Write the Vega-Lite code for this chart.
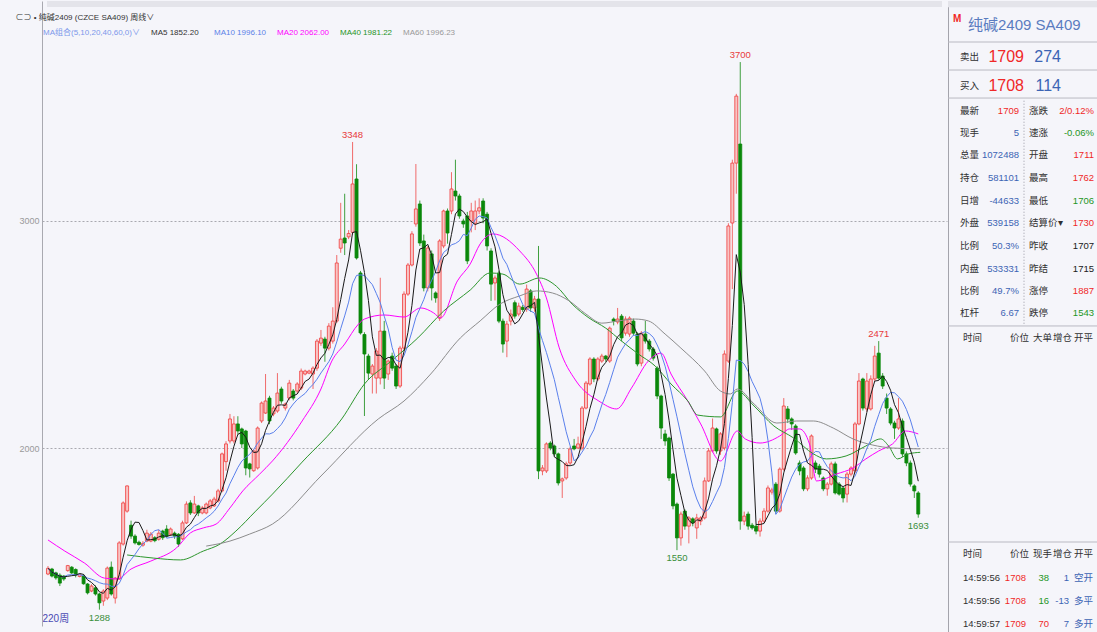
{
"$schema":"https://vega.github.io/schema/vega-lite/v6.json",
"background":"#f5f5fa",
"padding":0,
"spacing":0,
"resolve":{"scale":{"color":"independent"},"legend":{"color":"independent"}},
"config":{"view":{"stroke":null},"font":"Liberation Sans, Noto Sans CJK SC","text":{"font":"Liberation Sans, Noto Sans CJK SC"}},
"datasets":{
"k":[
{"i":0,"o":1445,"h":1480,"l":1440,"c":1470},{"i":1,"o":1467,"h":1472,"l":1430,"c":1436},{"i":2,"o":1450,"h":1455,"l":1420,"c":1428},{"i":3,"o":1440,"h":1448,"l":1392,"c":1405},{"i":4,"o":1436,"h":1440,"l":1415,"c":1423},
{"i":5,"o":1460,"h":1485,"l":1455,"c":1482},{"i":6,"o":1475,"h":1480,"l":1445,"c":1450},{"i":7,"o":1465,"h":1470,"l":1430,"c":1440},{"i":8,"o":1434,"h":1448,"l":1430,"c":1442},{"i":9,"o":1436,"h":1445,"l":1398,"c":1402},
{"i":10,"o":1401,"h":1405,"l":1355,"c":1362},{"i":11,"o":1370,"h":1400,"l":1365,"c":1392},{"i":12,"o":1384,"h":1395,"l":1350,"c":1357},{"i":13,"o":1357,"h":1362,"l":1288,"c":1318},{"i":14,"o":1326,"h":1378,"l":1305,"c":1370},
{"i":15,"o":1339,"h":1478,"l":1330,"c":1471},{"i":16,"o":1475,"h":1500,"l":1350,"c":1357},{"i":17,"o":1339,"h":1432,"l":1315,"c":1427},{"i":18,"o":1423,"h":1590,"l":1420,"c":1582},{"i":19,"o":1577,"h":1765,"l":1570,"c":1758},
{"i":20,"o":1722,"h":1835,"l":1715,"c":1833},{"i":21,"o":1660,"h":1680,"l":1600,"c":1612},{"i":22,"o":1612,"h":1620,"l":1575,"c":1582},{"i":23,"o":1585,"h":1592,"l":1570,"c":1575},{"i":24,"o":1572,"h":1590,"l":1565,"c":1580},
{"i":25,"o":1590,"h":1640,"l":1585,"c":1625},{"i":26,"o":1590,"h":1630,"l":1585,"c":1620},{"i":27,"o":1605,"h":1612,"l":1585,"c":1592},{"i":28,"o":1598,"h":1640,"l":1592,"c":1625},{"i":29,"o":1634,"h":1640,"l":1595,"c":1605},
{"i":30,"o":1643,"h":1660,"l":1605,"c":1612},{"i":31,"o":1620,"h":1650,"l":1612,"c":1643},{"i":32,"o":1625,"h":1632,"l":1600,"c":1612},{"i":33,"o":1620,"h":1625,"l":1565,"c":1577},{"i":34,"o":1600,"h":1680,"l":1595,"c":1670},
{"i":35,"o":1670,"h":1765,"l":1665,"c":1753},{"i":36,"o":1758,"h":1770,"l":1705,"c":1714},{"i":37,"o":1714,"h":1789,"l":1710,"c":1753},{"i":38,"o":1745,"h":1750,"l":1700,"c":1714},{"i":39,"o":1714,"h":1745,"l":1708,"c":1736},
{"i":40,"o":1714,"h":1760,"l":1708,"c":1753},{"i":41,"o":1736,"h":1775,"l":1730,"c":1767},{"i":42,"o":1745,"h":1785,"l":1740,"c":1775},{"i":43,"o":1767,"h":1820,"l":1760,"c":1811},{"i":44,"o":1811,"h":1980,"l":1805,"c":1974},
{"i":45,"o":1940,"h":2030,"l":1900,"c":2018},{"i":46,"o":2031,"h":2150,"l":2020,"c":2128},{"i":47,"o":2031,"h":2140,"l":2020,"c":2106},{"i":48,"o":2106,"h":2140,"l":2060,"c":2075},{"i":49,"o":2084,"h":2090,"l":2000,"c":2018},
{"i":50,"o":2075,"h":2080,"l":1880,"c":1912},{"i":51,"o":1930,"h":1935,"l":1870,"c":1908},{"i":52,"o":1900,"h":1995,"l":1895,"c":1987},{"i":53,"o":1912,"h":2095,"l":1905,"c":2088},{"i":54,"o":2119,"h":2205,"l":2110,"c":2198},
{"i":55,"o":2154,"h":2326,"l":2150,"c":2207},{"i":56,"o":2220,"h":2230,"l":2105,"c":2119},{"i":57,"o":2150,"h":2185,"l":2140,"c":2176},{"i":58,"o":2163,"h":2330,"l":2155,"c":2242},{"i":59,"o":2260,"h":2270,"l":2195,"c":2207},
{"i":60,"o":2176,"h":2200,"l":2165,"c":2194},{"i":61,"o":2220,"h":2300,"l":2210,"c":2286},{"i":62,"o":2251,"h":2260,"l":2210,"c":2220},{"i":63,"o":2251,"h":2290,"l":2240,"c":2282},{"i":64,"o":2264,"h":2350,"l":2255,"c":2339},
{"i":65,"o":2326,"h":2345,"l":2320,"c":2339},{"i":66,"o":2330,"h":2345,"l":2325,"c":2339},{"i":67,"o":2326,"h":2360,"l":2260,"c":2352},{"i":68,"o":2352,"h":2480,"l":2340,"c":2471},{"i":69,"o":2462,"h":2520,"l":2450,"c":2484},
{"i":70,"o":2480,"h":2490,"l":2380,"c":2440},{"i":71,"o":2440,"h":2550,"l":2430,"c":2537},{"i":72,"o":2471,"h":2620,"l":2460,"c":2559},{"i":73,"o":2559,"h":2850,"l":2550,"c":2815},{"i":74,"o":2880,"h":3080,"l":2860,"c":2920},
{"i":75,"o":2925,"h":3120,"l":2850,"c":2903},{"i":76,"o":2930,"h":2960,"l":2920,"c":2945},{"i":77,"o":2950,"h":3348,"l":2940,"c":3163},{"i":78,"o":3185,"h":3250,"l":2830,"c":2837},{"i":79,"o":2771,"h":2780,"l":2500,"c":2507},
{"i":80,"o":2500,"h":2510,"l":2141,"c":2414},{"i":81,"o":2405,"h":2415,"l":2300,"c":2330},{"i":82,"o":2326,"h":2370,"l":2240,"c":2361},{"i":83,"o":2308,"h":2440,"l":2240,"c":2427},{"i":84,"o":2308,"h":2750,"l":2280,"c":2515},
{"i":85,"o":2515,"h":2560,"l":2260,"c":2308},{"i":86,"o":2326,"h":2390,"l":2300,"c":2383},{"i":87,"o":2405,"h":2420,"l":2340,"c":2352},{"i":88,"o":2361,"h":2370,"l":2260,"c":2273},{"i":89,"o":2273,"h":2450,"l":2265,"c":2440},
{"i":90,"o":2440,"h":2690,"l":2430,"c":2678},{"i":91,"o":2678,"h":2815,"l":2670,"c":2806},{"i":92,"o":2806,"h":2955,"l":2800,"c":2943},{"i":93,"o":2987,"h":3251,"l":2975,"c":3053},{"i":94,"o":3075,"h":3090,"l":2890,"c":2903},
{"i":95,"o":2912,"h":2940,"l":2690,"c":2705},{"i":96,"o":2705,"h":2890,"l":2690,"c":2881},{"i":97,"o":2855,"h":2870,"l":2650,"c":2705},{"i":98,"o":2683,"h":2690,"l":2640,"c":2661},{"i":99,"o":2572,"h":2920,"l":2560,"c":2912},
{"i":100,"o":2890,"h":3050,"l":2880,"c":3044},{"i":101,"o":3044,"h":3055,"l":2900,"c":2947},{"i":102,"o":3044,"h":3215,"l":3030,"c":3141},{"i":103,"o":3132,"h":3270,"l":3090,"c":3110},{"i":104,"o":3110,"h":3120,"l":3010,"c":3022},
{"i":105,"o":3000,"h":3010,"l":2970,"c":2987},{"i":106,"o":3022,"h":3040,"l":2810,"c":2824},{"i":107,"o":3000,"h":3080,"l":2950,"c":3044},{"i":108,"o":2990,"h":3090,"l":2960,"c":3044},{"i":109,"o":3044,"h":3100,"l":3030,"c":3058},
{"i":110,"o":3088,"h":3100,"l":2990,"c":3013},{"i":111,"o":3030,"h":3040,"l":2870,"c":2890},{"i":112,"o":2868,"h":2880,"l":2648,"c":2722},{"i":113,"o":2727,"h":2760,"l":2650,"c":2749},{"i":114,"o":2771,"h":2780,"l":2550,"c":2559},
{"i":115,"o":2559,"h":2570,"l":2420,"c":2458},{"i":116,"o":2471,"h":2560,"l":2400,"c":2546},{"i":117,"o":2559,"h":2610,"l":2540,"c":2590},{"i":118,"o":2640,"h":2650,"l":2570,"c":2581},{"i":119,"o":2590,"h":2640,"l":2580,"c":2625},
{"i":120,"o":2620,"h":2630,"l":2600,"c":2610},{"i":121,"o":2612,"h":2720,"l":2600,"c":2700},{"i":122,"o":2692,"h":2700,"l":2600,"c":2617},{"i":123,"o":2617,"h":2670,"l":2600,"c":2656},{"i":124,"o":2656,"h":2890,"l":1863,"c":1899},
{"i":125,"o":1899,"h":1925,"l":1880,"c":1912},{"i":126,"o":1899,"h":2025,"l":1890,"c":2018},{"i":127,"o":2022,"h":2030,"l":1990,"c":2000},{"i":128,"o":2009,"h":2015,"l":1965,"c":1974},{"i":129,"o":1974,"h":1980,"l":1835,"c":1846},
{"i":130,"o":1855,"h":1870,"l":1780,"c":1864},{"i":131,"o":1868,"h":1940,"l":1860,"c":1930},{"i":132,"o":1934,"h":2005,"l":1925,"c":1996},{"i":133,"o":2009,"h":2040,"l":1990,"c":1996},{"i":134,"o":2000,"h":2050,"l":1995,"c":2018},
{"i":135,"o":2000,"h":2185,"l":1990,"c":2176},{"i":136,"o":2176,"h":2295,"l":2170,"c":2286},{"i":137,"o":2282,"h":2400,"l":2275,"c":2392},{"i":138,"o":2392,"h":2400,"l":2290,"c":2304},{"i":139,"o":2304,"h":2400,"l":2295,"c":2392},
{"i":140,"o":2383,"h":2415,"l":2375,"c":2405},{"i":141,"o":2405,"h":2410,"l":2380,"c":2392},{"i":142,"o":2383,"h":2535,"l":2375,"c":2528},{"i":143,"o":2568,"h":2575,"l":2540,"c":2559},{"i":144,"o":2555,"h":2617,"l":2545,"c":2568},
{"i":145,"o":2581,"h":2590,"l":2470,"c":2485},{"i":146,"o":2506,"h":2580,"l":2495,"c":2568},{"i":147,"o":2502,"h":2580,"l":2490,"c":2572},{"i":148,"o":2559,"h":2570,"l":2495,"c":2506},{"i":149,"o":2502,"h":2510,"l":2360,"c":2370},
{"i":150,"o":2374,"h":2515,"l":2360,"c":2506},{"i":151,"o":2502,"h":2560,"l":2460,"c":2471},{"i":152,"o":2471,"h":2480,"l":2425,"c":2436},{"i":153,"o":2436,"h":2445,"l":2385,"c":2396},{"i":154,"o":2352,"h":2360,"l":2215,"c":2229},
{"i":155,"o":2229,"h":2235,"l":2040,"c":2088},{"i":156,"o":2062,"h":2080,"l":2010,"c":2031},{"i":157,"o":2044,"h":2050,"l":1855,"c":1868},{"i":158,"o":1885,"h":1890,"l":1730,"c":1745},{"i":159,"o":1753,"h":1760,"l":1550,"c":1604},
{"i":160,"o":1604,"h":1720,"l":1570,"c":1709},{"i":161,"o":1722,"h":1730,"l":1640,"c":1656},{"i":162,"o":1656,"h":1700,"l":1580,"c":1692},{"i":163,"o":1688,"h":1695,"l":1655,"c":1670},{"i":164,"o":1648,"h":1710,"l":1600,"c":1692},
{"i":165,"o":1678,"h":1700,"l":1660,"c":1692},{"i":166,"o":1692,"h":1870,"l":1685,"c":1855},{"i":167,"o":1855,"h":2000,"l":1850,"c":1987},{"i":168,"o":1987,"h":2130,"l":1980,"c":2088},{"i":169,"o":2084,"h":2090,"l":1975,"c":1987},
{"i":170,"o":1987,"h":2070,"l":1970,"c":2062},{"i":171,"o":2000,"h":2430,"l":1990,"c":2414},{"i":172,"o":2383,"h":2990,"l":2375,"c":2978},{"i":173,"o":2991,"h":3270,"l":2700,"c":3255},{"i":174,"o":3255,"h":3560,"l":3120,"c":3550},
{"i":175,"o":3339,"h":3700,"l":1640,"c":1678},{"i":176,"o":1678,"h":1720,"l":1660,"c":1700},{"i":177,"o":1709,"h":1720,"l":1640,"c":1656},{"i":178,"o":1660,"h":1670,"l":1640,"c":1648},{"i":179,"o":1656,"h":1665,"l":1620,"c":1634},
{"i":180,"o":1634,"h":1690,"l":1610,"c":1678},{"i":181,"o":1678,"h":1735,"l":1670,"c":1722},{"i":182,"o":1722,"h":1835,"l":1715,"c":1824},{"i":183,"o":1806,"h":1825,"l":1795,"c":1815},{"i":184,"o":1841,"h":1850,"l":1710,"c":1722},
{"i":185,"o":1722,"h":1915,"l":1715,"c":1907},{"i":186,"o":1907,"h":2220,"l":1900,"c":2185},{"i":187,"o":2172,"h":2185,"l":2110,"c":2128},{"i":188,"o":2128,"h":2135,"l":2080,"c":2106},{"i":189,"o":2097,"h":2105,"l":1970,"c":1978},
{"i":190,"o":1934,"h":1945,"l":1880,"c":1899},{"i":191,"o":1912,"h":1920,"l":1810,"c":1820},{"i":192,"o":1820,"h":1880,"l":1810,"c":1868},{"i":193,"o":1868,"h":2060,"l":1860,"c":2053},{"i":194,"o":1934,"h":1945,"l":1890,"c":1907},
{"i":195,"o":1920,"h":1930,"l":1870,"c":1885},{"i":196,"o":1868,"h":1875,"l":1810,"c":1820},{"i":197,"o":1820,"h":1850,"l":1790,"c":1841},{"i":198,"o":1841,"h":1940,"l":1835,"c":1930},{"i":199,"o":1930,"h":1940,"l":1795,"c":1802},
{"i":200,"o":1841,"h":1850,"l":1790,"c":1797},{"i":201,"o":1824,"h":1830,"l":1760,"c":1780},{"i":202,"o":1797,"h":1895,"l":1760,"c":1885},{"i":203,"o":1885,"h":1920,"l":1875,"c":1912},{"i":204,"o":1899,"h":2115,"l":1890,"c":2106},
{"i":205,"o":2106,"h":2330,"l":2100,"c":2295},{"i":206,"o":2304,"h":2310,"l":2165,"c":2176},{"i":207,"o":2172,"h":2330,"l":2160,"c":2295},{"i":208,"o":2172,"h":2320,"l":2165,"c":2304},{"i":209,"o":2304,"h":2450,"l":2295,"c":2405},
{"i":210,"o":2418,"h":2471,"l":2300,"c":2308},{"i":211,"o":2317,"h":2330,"l":2260,"c":2273},{"i":212,"o":2220,"h":2240,"l":2150,"c":2176},{"i":213,"o":2172,"h":2180,"l":2100,"c":2110},{"i":214,"o":2110,"h":2120,"l":2040,"c":2088},
{"i":215,"o":2088,"h":2220,"l":2080,"c":2128},{"i":216,"o":2119,"h":2130,"l":1960,"c":1974},{"i":217,"o":1974,"h":1985,"l":1920,"c":1934},{"i":218,"o":1934,"h":1945,"l":1830,"c":1841},{"i":219,"o":1833,"h":1840,"l":1780,"c":1811},
{"i":220,"o":1802,"h":1810,"l":1693,"c":1709}
],
"ma":[
{"m":"ma20","t":0,"v":1595},{"m":"ma20","t":4.25,"v":1546},{"m":"ma20","t":9.25,"v":1493},{"m":"ma20","t":14.25,"v":1427},{"m":"ma20","t":17.5,"v":1423},{"m":"ma20","t":21,"v":1467},{"m":"ma20","t":26,"v":1502},{"m":"ma20","t":32.5,"v":1560},{"m":"ma20","t":36,"v":1626},{"m":"ma20","t":39.25,"v":1648},{"m":"ma20","t":42.5,"v":1665},{"m":"ma20","t":46,"v":1736},{"m":"ma20","t":49.25,"v":1811},{"m":"ma20","t":53.5,"v":1885},{"m":"ma20","t":56.75,"v":1943},{"m":"ma20","t":64.25,"v":2119},{"m":"ma20","t":69,"v":2260},{"m":"ma20","t":71.75,"v":2383},{"m":"ma20","t":75,"v":2458},{"m":"ma20","t":78.5,"v":2546},{"m":"ma20","t":80,"v":2568},{"m":"ma20","t":85,"v":2586},{"m":"ma20","t":90,"v":2577},{"m":"ma20","t":94.25,"v":2617},{"m":"ma20","t":97.5,"v":2595},{"m":"ma20","t":99.25,"v":2573},{"m":"ma20","t":103.5,"v":2736},{"m":"ma20","t":106.75,"v":2811},{"m":"ma20","t":109.25,"v":2899},{"m":"ma20","t":112.5,"v":2943},{"m":"ma20","t":119.25,"v":2868},{"m":"ma20","t":123.5,"v":2766},{"m":"ma20","t":126,"v":2661},{"m":"ma20","t":129.25,"v":2441},{"m":"ma20","t":133.5,"v":2295},{"m":"ma20","t":139.25,"v":2207},{"m":"ma20","t":143.75,"v":2172},{"m":"ma20","t":147.5,"v":2264},{"m":"ma20","t":151.75,"v":2383},{"m":"ma20","t":155,"v":2418},{"m":"ma20","t":157.5,"v":2326},{"m":"ma20","t":161.75,"v":2207},{"m":"ma20","t":165,"v":2106},{"m":"ma20","t":170,"v":1943},{"m":"ma20","t":174.25,"v":2075},{"m":"ma20","t":176.25,"v":2040},{"m":"ma20","t":180,"v":2022},{"m":"ma20","t":185,"v":2053},{"m":"ma20","t":187.5,"v":2084},{"m":"ma20","t":190,"v":2084},{"m":"ma20","t":192.5,"v":2018},{"m":"ma20","t":194.25,"v":1855},{"m":"ma20","t":199.25,"v":1885},{"m":"ma20","t":203.5,"v":1912},{"m":"ma20","t":206.75,"v":1952},{"m":"ma20","t":210,"v":1987},{"m":"ma20","t":213.5,"v":2018},{"m":"ma20","t":216.75,"v":2075},{"m":"ma20","t":220,"v":2062},
{"m":"ma40","t":20,"v":1529},{"m":"ma40","t":26.75,"v":1515},{"m":"ma40","t":33.5,"v":1507},{"m":"ma40","t":39.25,"v":1546},{"m":"ma40","t":43.5,"v":1577},{"m":"ma40","t":47.5,"v":1634},{"m":"ma40","t":52.5,"v":1722},{"m":"ma40","t":56.75,"v":1797},{"m":"ma40","t":64.25,"v":1938},{"m":"ma40","t":74.25,"v":2128},{"m":"ma40","t":80,"v":2282},{"m":"ma40","t":86.75,"v":2383},{"m":"ma40","t":93.5,"v":2485},{"m":"ma40","t":100,"v":2603},{"m":"ma40","t":106.75,"v":2696},{"m":"ma40","t":111.75,"v":2771},{"m":"ma40","t":115,"v":2766},{"m":"ma40","t":119.25,"v":2722},{"m":"ma40","t":124.25,"v":2749},{"m":"ma40","t":128.5,"v":2713},{"m":"ma40","t":132.5,"v":2634},{"m":"ma40","t":136.75,"v":2573},{"m":"ma40","t":141,"v":2528},{"m":"ma40","t":145,"v":2471},{"m":"ma40","t":149.25,"v":2414},{"m":"ma40","t":153.5,"v":2361},{"m":"ma40","t":157.5,"v":2282},{"m":"ma40","t":161.75,"v":2207},{"m":"ma40","t":164.25,"v":2145},{"m":"ma40","t":170,"v":2137},{"m":"ma40","t":174.25,"v":2251},{"m":"ma40","t":178.5,"v":2185},{"m":"ma40","t":183.5,"v":2097},{"m":"ma40","t":188.5,"v":2044},{"m":"ma40","t":193.5,"v":1974},{"m":"ma40","t":196.75,"v":1952},{"m":"ma40","t":201.75,"v":1965},{"m":"ma40","t":206.75,"v":2009},{"m":"ma40","t":210.5,"v":2040},{"m":"ma40","t":212.5,"v":2009},{"m":"ma40","t":214.75,"v":1952},{"m":"ma40","t":217.5,"v":1974},{"m":"ma40","t":220.5,"v":1981},
{"m":"ma60","t":40,"v":1568},{"m":"ma60","t":46,"v":1590},{"m":"ma60","t":51,"v":1621},{"m":"ma60","t":56.75,"v":1665},{"m":"ma60","t":69.25,"v":1881},{"m":"ma60","t":83.5,"v":2128},{"m":"ma60","t":90,"v":2207},{"m":"ma60","t":96.75,"v":2326},{"m":"ma60","t":104.25,"v":2485},{"m":"ma60","t":109.25,"v":2560},{"m":"ma60","t":114.25,"v":2634},{"m":"ma60","t":119.25,"v":2670},{"m":"ma60","t":123.5,"v":2692},{"m":"ma60","t":127.5,"v":2683},{"m":"ma60","t":131.75,"v":2648},{"m":"ma60","t":136,"v":2590},{"m":"ma60","t":140,"v":2550},{"m":"ma60","t":144.25,"v":2560},{"m":"ma60","t":148.5,"v":2568},{"m":"ma60","t":151.75,"v":2560},{"m":"ma60","t":156,"v":2502},{"m":"ma60","t":160,"v":2440},{"m":"ma60","t":166,"v":2339},{"m":"ma60","t":170,"v":2251},{"m":"ma60","t":172.5,"v":2238},{"m":"ma60","t":174.25,"v":2260},{"m":"ma60","t":178.5,"v":2194},{"m":"ma60","t":184.25,"v":2110},{"m":"ma60","t":189.25,"v":2119},{"m":"ma60","t":193.5,"v":2119},{"m":"ma60","t":198.5,"v":2088},{"m":"ma60","t":203.5,"v":2040},{"m":"ma60","t":208.5,"v":2013},{"m":"ma60","t":213.5,"v":2000},{"m":"ma60","t":220.5,"v":1996}
],
"ext":[
{"i":77,"v":3348,"pos":"hi"},{"i":175,"v":3700,"pos":"hi"},{"i":210,"v":2471,"pos":"hi"},
{"i":13,"v":1288,"pos":"lo"},{"i":159,"v":1550,"pos":"lo"},{"i":220,"v":1693,"pos":"lo"}
],
"panel":[
{"col":1.0,"line":0.8,"txt":"M","kind":"mark","tone":"up"},
{"col":4.0,"line":1.07,"txt":"纯碱2409  SA409","kind":"title","tone":"title"},
{"col":2.4,"line":2.5,"txt":"卖出","kind":"label","tone":"text"},
{"col":15.2,"line":2.5,"txt":"1709","kind":"big","tone":"up"},
{"col":22.6,"line":2.5,"txt":"274","kind":"big","tone":"vol"},
{"col":2.4,"line":3.79,"txt":"买入","kind":"label","tone":"text"},
{"col":15.2,"line":3.79,"txt":"1708","kind":"big","tone":"up"},
{"col":22.6,"line":3.79,"txt":"114","kind":"big","tone":"vol"},
{"col":2.4,"line":4.91,"txt":"最新","kind":"label","tone":"text"},{"col":14.2,"line":4.91,"txt":"1709","kind":"value","tone":"up"},{"col":16.2,"line":4.91,"txt":"涨跌","kind":"label","tone":"text"},{"col":29.2,"line":4.91,"txt":"2/0.12%","kind":"value","tone":"up"},
{"col":2.4,"line":5.87,"txt":"现手","kind":"label","tone":"text"},{"col":14.2,"line":5.87,"txt":"5","kind":"value","tone":"vol"},{"col":16.2,"line":5.87,"txt":"速涨","kind":"label","tone":"text"},{"col":29.2,"line":5.87,"txt":"-0.06%","kind":"value","tone":"down"},
{"col":2.4,"line":6.87,"txt":"总量","kind":"label","tone":"text"},{"col":14.2,"line":6.87,"txt":"1072488","kind":"value","tone":"vol"},{"col":16.2,"line":6.87,"txt":"开盘","kind":"label","tone":"text"},{"col":29.2,"line":6.87,"txt":"1711","kind":"value","tone":"up"},
{"col":2.4,"line":7.88,"txt":"持仓","kind":"label","tone":"text"},{"col":14.2,"line":7.88,"txt":"581101","kind":"value","tone":"vol"},{"col":16.2,"line":7.88,"txt":"最高","kind":"label","tone":"text"},{"col":29.2,"line":7.88,"txt":"1762","kind":"value","tone":"up"},
{"col":2.4,"line":8.92,"txt":"日增","kind":"label","tone":"text"},{"col":14.2,"line":8.92,"txt":"-44633","kind":"value","tone":"vol"},{"col":16.2,"line":8.92,"txt":"最低","kind":"label","tone":"text"},{"col":29.2,"line":8.92,"txt":"1706","kind":"value","tone":"down"},
{"col":2.4,"line":9.91,"txt":"外盘","kind":"label","tone":"text"},{"col":14.2,"line":9.91,"txt":"539158","kind":"value","tone":"vol"},{"col":16.2,"line":9.91,"txt":"结算价▾","kind":"label","tone":"text"},{"col":29.2,"line":9.91,"txt":"1730","kind":"value","tone":"up"},
{"col":2.4,"line":10.93,"txt":"比例","kind":"label","tone":"text"},{"col":14.2,"line":10.93,"txt":"50.3%","kind":"value","tone":"vol"},{"col":16.2,"line":10.93,"txt":"昨收","kind":"label","tone":"text"},{"col":29.2,"line":10.93,"txt":"1707","kind":"value","tone":"flat"},
{"col":2.4,"line":11.96,"txt":"内盘","kind":"label","tone":"text"},{"col":14.2,"line":11.96,"txt":"533331","kind":"value","tone":"vol"},{"col":16.2,"line":11.96,"txt":"昨结","kind":"label","tone":"text"},{"col":29.2,"line":11.96,"txt":"1715","kind":"value","tone":"flat"},
{"col":2.4,"line":12.94,"txt":"比例","kind":"label","tone":"text"},{"col":14.2,"line":12.94,"txt":"49.7%","kind":"value","tone":"vol"},{"col":16.2,"line":12.94,"txt":"涨停","kind":"label","tone":"text"},{"col":29.2,"line":12.94,"txt":"1887","kind":"value","tone":"up"},
{"col":2.4,"line":13.92,"txt":"杠杆","kind":"label","tone":"text"},{"col":14.2,"line":13.92,"txt":"6.67","kind":"value","tone":"vol"},{"col":16.2,"line":13.92,"txt":"跌停","kind":"label","tone":"text"},{"col":29.2,"line":13.92,"txt":"1543","kind":"value","tone":"down"},
{"col":3.0,"line":15.04,"txt":"时间","kind":"label","tone":"text"},{"col":12.4,"line":15.04,"txt":"价位","kind":"label","tone":"text"},{"col":17,"line":15.04,"txt":"大单","kind":"label","tone":"text"},{"col":21,"line":15.04,"txt":"增仓","kind":"label","tone":"text"},{"col":25.2,"line":15.04,"txt":"开平","kind":"label","tone":"text"},
{"col":3.0,"line":24.68,"txt":"时间","kind":"label","tone":"text"},{"col":12.4,"line":24.68,"txt":"价位","kind":"label","tone":"text"},{"col":17,"line":24.68,"txt":"现手","kind":"label","tone":"text"},{"col":21,"line":24.68,"txt":"增仓","kind":"label","tone":"text"},{"col":25.2,"line":24.68,"txt":"开平","kind":"label","tone":"text"},
{"col":3.0,"line":25.75,"txt":"14:59:56","kind":"label","tone":"time"},{"col":15.6,"line":25.75,"txt":"1708","kind":"value","tone":"up"},{"col":20.2,"line":25.75,"txt":"38","kind":"value","tone":"down"},{"col":24.2,"line":25.75,"txt":"1","kind":"value","tone":"vol"},{"col":25.2,"line":25.75,"txt":"空开","kind":"label","tone":"vol"},
{"col":3.0,"line":26.77,"txt":"14:59:56","kind":"label","tone":"time"},{"col":15.6,"line":26.77,"txt":"1708","kind":"value","tone":"up"},{"col":20.2,"line":26.77,"txt":"16","kind":"value","tone":"down"},{"col":24.2,"line":26.77,"txt":"-13","kind":"value","tone":"vol"},{"col":25.2,"line":26.77,"txt":"多平","kind":"label","tone":"vol"},
{"col":3.0,"line":27.8,"txt":"14:59:57","kind":"label","tone":"time"},{"col":15.6,"line":27.8,"txt":"1709","kind":"value","tone":"up"},{"col":20.2,"line":27.8,"txt":"70","kind":"value","tone":"up"},{"col":24.2,"line":27.8,"txt":"7","kind":"value","tone":"vol"},{"col":25.2,"line":27.8,"txt":"多开","kind":"label","tone":"vol"}
],
"psep":[{"line":1.83},{"line":3.08},{"line":4.33},{"line":14.5},{"line":24.14}],
"pvsep":[{"col":15.2,"line":4.45,"line2":14.4}]
},
"hconcat":[
{
"width":905,"height":625,
"layer":[
{"data":{"values":[{}]},"mark":{"type":"rect","color":"#e4e4ea"},
"encoding":{
"x":{"datum":-0.25,"type":"quantitative","scale":{"domain":[-0.25,226],"nice":false,"zero":false}},
"x2":{"datum":226},
"y":{"datum":3969,"type":"quantitative","scale":{"domain":[1216,3969],"nice":false,"zero":false}},
"y2":{"datum":3943}
}},
{"data":{"name":"k"},"mark":{"type":"rule","strokeWidth":1},
"encoding":{
"x":{"field":"i","type":"quantitative","scale":{"domain":[-0.25,226],"nice":false,"zero":false},"axis":{"title":"220周","titleAnchor":"start","titleAlign":"left","titleBaseline":"bottom","titleX":0,"titleY":-3,"titleColor":"#4a4ab4","titleFontSize":10,"titleFontWeight":"normal","titleFont":"Liberation Sans, Noto Sans CJK SC","labels":false,"ticks":false,"domain":false,"grid":false}},
"y":{"field":"l","type":"quantitative","scale":{"domain":[1216,3969],"nice":false,"zero":false},"axis":{"values":[2000,3000],"format":"d","title":"⊂⊃ • 纯碱2409  (CZCE SA409)   周线∨","titleAngle":0,"titleAlign":"left","titleBaseline":"middle","titleX":-27,"titleY":16,"titleFont":"Liberation Sans, Noto Sans CJK SC","titleFontSize":8,"titleFontWeight":"normal","titleColor":"#333333","grid":true,"gridDash":[2,2],"gridColor":"#a9a9b0","domain":true,"domainColor":"#a9a9b0","ticks":false,"labelColor":"#9a9a9a","labelFontSize":9,"labelFont":"Liberation Sans","labelPadding":3,"minExtent":42,"maxExtent":42}},
"y2":{"field":"h"},
"color":{"condition":{"test":"datum.c >= datum.o","value":"#f06a6a"},"value":"#3f9f3f"}
}},
{"data":{"name":"k"},"mark":{"type":"bar","width":3,"strokeWidth":0.8},
"encoding":{
"x":{"field":"i","type":"quantitative","scale":{"domain":[-0.25,226],"nice":false,"zero":false}},
"y":{"field":"o","type":"quantitative","scale":{"domain":[1216,3969],"nice":false,"zero":false}},
"y2":{"field":"c"},
"fill":{"condition":{"test":"datum.c >= datum.o","value":"#f8c4c4"},"value":"#0a880a"},
"stroke":{"condition":{"test":"datum.c >= datum.o","value":"#f03c3c"},"value":"#0a880a"}
}},
{"data":{"name":"ma"},"mark":{"type":"line","interpolate":"monotone","strokeWidth":1},
"encoding":{
"x":{"field":"t","type":"quantitative","scale":{"domain":[-0.25,226],"nice":false,"zero":false}},
"y":{"field":"v","type":"quantitative","scale":{"domain":[1216,3969],"nice":false,"zero":false}},
"color":{"field":"m","type":"nominal","scale":{"domain":["ma5","ma10","ma20","ma40","ma60"],"range":["#1a1a1a","#5a80ec","#ff00ff","#2d962d","#8c8c8c"]},
"legend":{"title":"MA组合(5,10,20,40,60,0)∨","titleOrient":"left","titleColor":"#7b97ea","titleFont":"Liberation Sans, Noto Sans CJK SC","titleFontSize":8,"titleFontWeight":"normal","titlePadding":3,"orient":"none","legendX":1,"legendY":28,"padding":0,"direction":"horizontal","gridAlign":"all","symbolType":"circle","symbolSize":0.01,"symbolOpacity":0,"symbolStrokeWidth":0,"labelOffset":0,"columnPadding":2,"labelFont":"Liberation Sans","labelFontSize":8,
"labelExpr":"datum.value=='ma5'?'MA5 1852.20':datum.value=='ma10'?'MA10 1996.10':datum.value=='ma20'?'MA20 2062.00':datum.value=='ma40'?'MA40 1981.22':'MA60 1996.23'",
"encode":{"labels":{"update":{"fill":{"signal":"datum.value=='ma5'?'#333333':datum.value=='ma10'?'#5b82e8':datum.value=='ma20'?'#ff00ff':datum.value=='ma40'?'#1f941f':'#999999'"}}}}}}
}},
{"data":{"name":"k"},
"transform":[
{"window":[{"op":"mean","field":"c","as":"ma5"}],"frame":[-4,0],"sort":[{"field":"i"}]},
{"window":[{"op":"mean","field":"c","as":"ma10"}],"frame":[-9,0],"sort":[{"field":"i"}]},
{"fold":["ma10","ma5"],"as":["m","v"]}
],
"mark":{"type":"line","strokeWidth":1},
"encoding":{
"x":{"field":"i","type":"quantitative","scale":{"domain":[-0.25,226],"nice":false,"zero":false}},
"y":{"field":"v","type":"quantitative","scale":{"domain":[1216,3969],"nice":false,"zero":false}},
"color":{"field":"m","type":"nominal","scale":{"domain":["ma5","ma10","ma20","ma40","ma60"],"range":["#1a1a1a","#5a80ec","#ff00ff","#2d962d","#8c8c8c"]},
"legend":{"title":"MA组合(5,10,20,40,60,0)∨","titleOrient":"left","titleColor":"#7b97ea","titleFont":"Liberation Sans, Noto Sans CJK SC","titleFontSize":8,"titleFontWeight":"normal","titlePadding":3,"orient":"none","legendX":1,"legendY":28,"padding":0,"direction":"horizontal","gridAlign":"all","symbolType":"circle","symbolSize":0.01,"symbolOpacity":0,"symbolStrokeWidth":0,"labelOffset":0,"columnPadding":2,"labelFont":"Liberation Sans","labelFontSize":8,
"labelExpr":"datum.value=='ma5'?'MA5 1852.20':datum.value=='ma10'?'MA10 1996.10':datum.value=='ma20'?'MA20 2062.00':datum.value=='ma40'?'MA40 1981.22':'MA60 1996.23'",
"encode":{"labels":{"update":{"fill":{"signal":"datum.value=='ma5'?'#333333':datum.value=='ma10'?'#5b82e8':datum.value=='ma20'?'#ff00ff':datum.value=='ma40'?'#1f941f':'#999999'"}}}}}}
}},
{"data":{"name":"ext"},"transform":[{"filter":"datum.pos == 'hi'"}],
"mark":{"type":"text","baseline":"bottom","dy":-2,"fontSize":9.5,"color":"#e83a3a"},
"encoding":{
"x":{"field":"i","type":"quantitative","scale":{"domain":[-0.25,226],"nice":false,"zero":false}},
"y":{"field":"v","type":"quantitative","scale":{"domain":[1216,3969],"nice":false,"zero":false}},
"text":{"field":"v","type":"quantitative","format":"d"}
}},
{"data":{"name":"ext"},"transform":[{"filter":"datum.pos == 'lo'"}],
"mark":{"type":"text","baseline":"top","dy":3,"fontSize":9.5,"color":"#3a8f3a"},
"encoding":{
"x":{"field":"i","type":"quantitative","scale":{"domain":[-0.25,226],"nice":false,"zero":false}},
"y":{"field":"v","type":"quantitative","scale":{"domain":[1216,3969],"nice":false,"zero":false}},
"text":{"field":"v","type":"quantitative","format":"d"}
}}
]
},
{
"width":150,"height":632,
"view":{"stroke":"#a4a4ac","strokeWidth":1},
"layer":[
{"data":{"values":[{}]},"mark":{"type":"rect","color":"#e4e4ea"},
"encoding":{
"x":{"datum":0,"type":"quantitative","scale":{"domain":[0,30],"nice":false,"zero":false},"axis":null},
"x2":{"datum":30},
"y":{"datum":0,"type":"quantitative","scale":{"domain":[0,28.2],"reverse":true,"nice":false,"zero":false},"axis":null},
"y2":{"datum":0.28}}},
{"data":{"name":"psep"},"mark":{"type":"rule","color":"#b9b9c2","strokeWidth":1},
"encoding":{"y":{"field":"line","type":"quantitative","scale":{"domain":[0,28.2],"reverse":true,"nice":false,"zero":false},"axis":null}}},
{"data":{"name":"pvsep"},"mark":{"type":"rule","color":"#9a9aa4","strokeDash":[1,2],"strokeWidth":1},
"encoding":{
"x":{"field":"col","type":"quantitative","scale":{"domain":[0,30],"nice":false,"zero":false},"axis":null},
"y":{"field":"line","type":"quantitative","scale":{"domain":[0,28.2],"reverse":true,"nice":false,"zero":false},"axis":null},
"y2":{"field":"line2"}}},
{"data":{"name":"panel"},"transform":[{"filter":"datum.kind == 'mark'"}],
"mark":{"type":"text","align":"left","baseline":"middle","fontSize":10,"fontWeight":"bold"},
"encoding":{
"x":{"field":"col","type":"quantitative","scale":{"domain":[0,30],"nice":false,"zero":false},"axis":null},
"y":{"field":"line","type":"quantitative","scale":{"domain":[0,28.2],"reverse":true,"nice":false,"zero":false},"axis":null},
"text":{"field":"txt"},
"color":{"field":"tone","type":"nominal","scale":{"domain":["up","down","vol","flat","text","title","time"],"range":["#f02828","#1e961e","#3c64b4","#202020","#303030","#5a7cc0","#303030"]},"legend":null}}},
{"data":{"name":"panel"},"transform":[{"filter":"datum.kind == 'title'"}],
"mark":{"type":"text","align":"left","baseline":"middle","fontSize":15},
"encoding":{
"x":{"field":"col","type":"quantitative","scale":{"domain":[0,30],"nice":false,"zero":false},"axis":null},
"y":{"field":"line","type":"quantitative","scale":{"domain":[0,28.2],"reverse":true,"nice":false,"zero":false},"axis":null},
"text":{"field":"txt"},
"color":{"field":"tone","type":"nominal","scale":{"domain":["up","down","vol","flat","text","title","time"],"range":["#f02828","#1e961e","#3c64b4","#202020","#303030","#5a7cc0","#303030"]},"legend":null}}},
{"data":{"name":"panel"},"transform":[{"filter":"datum.kind == 'big'"}],
"mark":{"type":"text","align":"right","baseline":"middle","fontSize":16},
"encoding":{
"x":{"field":"col","type":"quantitative","scale":{"domain":[0,30],"nice":false,"zero":false},"axis":null},
"y":{"field":"line","type":"quantitative","scale":{"domain":[0,28.2],"reverse":true,"nice":false,"zero":false},"axis":null},
"text":{"field":"txt"},
"color":{"field":"tone","type":"nominal","scale":{"domain":["up","down","vol","flat","text","title","time"],"range":["#f02828","#1e961e","#3c64b4","#202020","#303030","#5a7cc0","#303030"]},"legend":null}}},
{"data":{"name":"panel"},"transform":[{"filter":"datum.kind == 'label'"}],
"mark":{"type":"text","align":"left","baseline":"middle","fontSize":9.5},
"encoding":{
"x":{"field":"col","type":"quantitative","scale":{"domain":[0,30],"nice":false,"zero":false},"axis":null},
"y":{"field":"line","type":"quantitative","scale":{"domain":[0,28.2],"reverse":true,"nice":false,"zero":false},"axis":null},
"text":{"field":"txt"},
"color":{"field":"tone","type":"nominal","scale":{"domain":["up","down","vol","flat","text","title","time"],"range":["#f02828","#1e961e","#3c64b4","#202020","#303030","#5a7cc0","#303030"]},"legend":null}}},
{"data":{"name":"panel"},"transform":[{"filter":"datum.kind == 'value'"}],
"mark":{"type":"text","align":"right","baseline":"middle","fontSize":9.5},
"encoding":{
"x":{"field":"col","type":"quantitative","scale":{"domain":[0,30],"nice":false,"zero":false},"axis":null},
"y":{"field":"line","type":"quantitative","scale":{"domain":[0,28.2],"reverse":true,"nice":false,"zero":false},"axis":null},
"text":{"field":"txt"},
"color":{"field":"tone","type":"nominal","scale":{"domain":["up","down","vol","flat","text","title","time"],"range":["#f02828","#1e961e","#3c64b4","#202020","#303030","#5a7cc0","#303030"]},"legend":null}}}
]
}
]
}
